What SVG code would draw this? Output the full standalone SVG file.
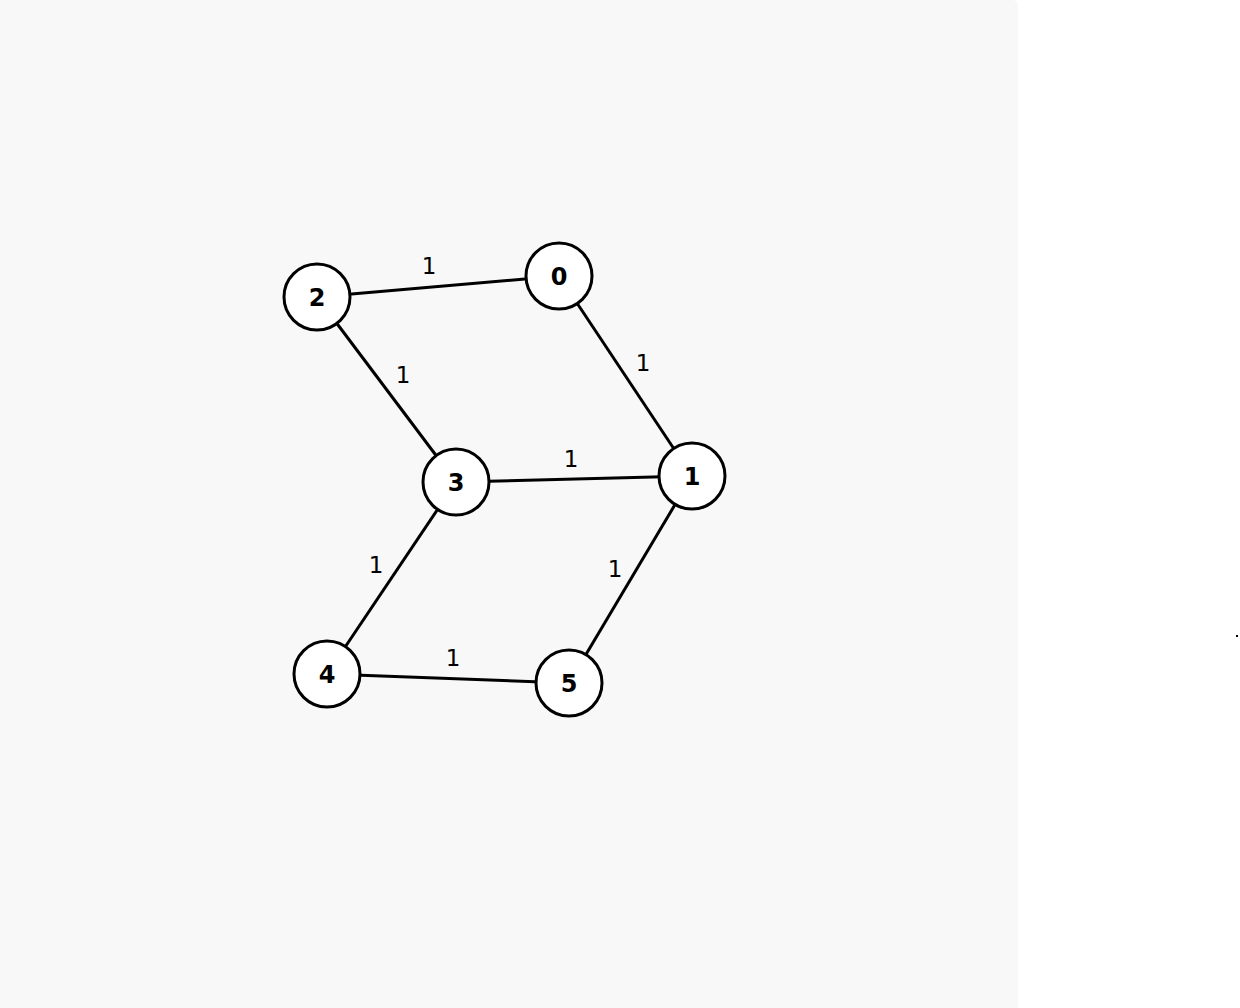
<svg xmlns="http://www.w3.org/2000/svg" width="1240" height="1008" viewBox="0 0 1240 1008">
<style>
.edge{stroke:#000;stroke-width:3;fill:none}
.node circle{fill:#fff;stroke:#000;stroke-width:3}
.node text{font-family:"DejaVu Sans",sans-serif;font-size:24px;font-weight:bold;text-anchor:middle;fill:#000}
.lbl{font-family:"DejaVu Sans",sans-serif;font-size:23px;text-anchor:middle;fill:#000}
</style>
<rect x="0" y="0" width="1240" height="1008" fill="#fff"/>
<path d="M0 0 H1012 Q1018 0 1018 6 V1008 H0 Z" fill="#f8f8f8"/>
<rect x="1236" y="635" width="2" height="2" fill="#000"/>
<g id="connectors">
<line class="edge" x1="317" y1="297" x2="559" y2="276"/>
<line class="edge" x1="317" y1="297" x2="456" y2="482"/>
<line class="edge" x1="559" y1="276" x2="692" y2="476"/>
<line class="edge" x1="456" y1="482" x2="692" y2="476"/>
<line class="edge" x1="456" y1="482" x2="327" y2="674"/>
<line class="edge" x1="692" y1="476" x2="569" y2="683"/>
<line class="edge" x1="327" y1="674" x2="569" y2="683"/>
<text class="lbl" x="429" y="274">1</text>
<text class="lbl" x="403" y="383">1</text>
<text class="lbl" x="643" y="371">1</text>
<text class="lbl" x="571" y="467">1</text>
<text class="lbl" x="376" y="573">1</text>
<text class="lbl" x="615" y="577">1</text>
<text class="lbl" x="453" y="666">1</text>
</g>
<g id="node-0" class="node"><circle cx="559" cy="276" r="33"/><text x="559" y="285">0</text></g>
<g id="node-1" class="node"><circle cx="692" cy="476" r="33"/><text x="692" y="485">1</text></g>
<g id="node-2" class="node"><circle cx="317" cy="297" r="33"/><text x="317" y="306">2</text></g>
<g id="node-3" class="node"><circle cx="456" cy="482" r="33"/><text x="456" y="491">3</text></g>
<g id="node-4" class="node"><circle cx="327" cy="674" r="33"/><text x="327" y="683">4</text></g>
<g id="node-5" class="node"><circle cx="569" cy="683" r="33"/><text x="569" y="692">5</text></g>
</svg>
